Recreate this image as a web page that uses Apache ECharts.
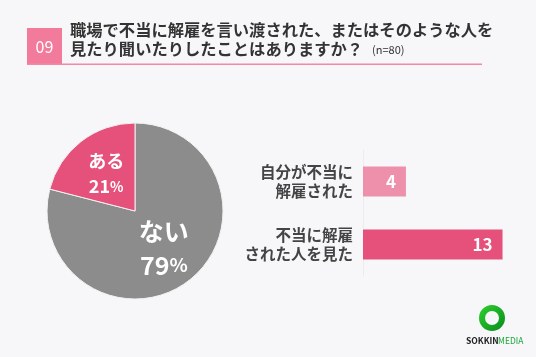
<!DOCTYPE html>
<html><head><meta charset="utf-8">
<script src="https://cdn.jsdelivr.net/npm/echarts@6/dist/echarts.min.js"></script>
<style>html,body{margin:0;padding:0;background:#f7f7f9}#c{width:536px;height:357px}</style>
</head><body><div id="c"></div>
<script>
const pieNames = ['ない', 'ある'];
const pieValues = [79, 21];
const barCategories = ['自分が不当に\n解雇された', '不当に解雇\nされた人を見た'];
const barValues = [4, 13];
const titleLine1 = '職場で不当に解雇を言い渡された、またはそのような人を';
const titleLine2 = '見たり聞いたりしたことはありますか？';
const nLabel = '(n=80)';
const qNum = '09';

const F = '"Noto Sans CJK JP", "Noto Sans", sans-serif';
const chart = echarts.init(document.getElementById('c'));
chart.setOption({
  backgroundColor: '#f7f7f9',
  animation: false,
  grid: { left: 363, top: 150, width: 161, height: 126 },
  xAxis: { type: 'value', min: 0, max: 15, show: false },
  yAxis: {
    type: 'category', data: barCategories, inverse: true,
    axisLine: { show: true, lineStyle: { color: '#ececee' } },
    axisTick: { show: false },
    axisLabel: { color: '#444', fontFamily: F, fontSize: 15.5, fontWeight: 'bold', lineHeight: 18.5, margin: 10, align: 'right' }
  },
  series: [
    {
      type: 'pie', center: [135, 211], radius: [0, 88], startAngle: 90, clockwise: true,
      data: pieNames.map((n, i) => ({ name: n, value: pieValues[i] })),
      itemStyle: { borderColor: '#f2f2f2', borderWidth: 1 },
      color: ['#8c8c8c', '#e6517b'],
      label: {
        position: 'inside', color: '#fff', fontFamily: F,
        formatter: p => p.dataIndex === 0 ? '{a|' + p.name + '}\n{a|' + p.value + '}{b|%}' : '{c|' + p.name + '}\n{c|' + p.value + '}{d|%}',
        rich: {
          a: { fontSize: 25, fontWeight: 'bold', color: '#fff', fontFamily: F, lineHeight: 34 },
          b: { fontSize: 19, fontWeight: 'bold', color: '#fff', fontFamily: F, lineHeight: 34 },
          c: { fontSize: 18, fontWeight: 'bold', color: '#fff', fontFamily: F, lineHeight: 25 },
          d: { fontSize: 14, fontWeight: 'bold', color: '#fff', fontFamily: F, lineHeight: 25 }
        }
      },
      labelLine: { show: false }
    },
    {
      type: 'bar', barWidth: 30,
      data: barValues.map((v, i) => ({ value: v, itemStyle: { color: i === 0 ? '#ee8fab' : '#e6517b' } })),
      label: { show: true, position: 'insideRight', color: '#fff', fontFamily: F, fontSize: 17, fontWeight: 'bold', distance: 10 }
    }
  ],
  graphic: [
    { type: 'rect', shape: { x: 27, y: 28, width: 35, height: 37 }, style: { fill: '#f27a9b' } },
    { type: 'text', x: 44.5, y: 47, style: { text: qNum, fill: '#fff', font: '16px ' + F, textAlign: 'center', textVerticalAlign: 'middle' } },
    { type: 'rect', shape: { x: 27, y: 63.5, width: 455, height: 1.5 }, style: { fill: '#f08aa6' } },
    { type: 'text', x: 70, y: 30, style: { text: titleLine1, fill: '#333', font: 'bold 16.3px ' + F, textVerticalAlign: 'middle' } },
    { type: 'text', x: 70, y: 49, style: { text: titleLine2, fill: '#333', font: 'bold 16.3px ' + F, textVerticalAlign: 'middle' } },
    { type: 'text', x: 372, y: 50, style: { text: nLabel, fill: '#333', font: '11px ' + F, textVerticalAlign: 'middle' } },
    { type: 'ring', shape: { cx: 492, cy: 318, r: 13, r0: 7 }, style: { fill: new echarts.graphic.LinearGradient(0, 0, 1, 1, [{ offset: 0, color: '#2ed12e' }, { offset: 1, color: '#0a8a1e' }]) } },
    { type: 'text', x: 466, y: 341, style: { text: 'SOKKIN', fill: '#222', font: 'bold 8.5px ' + F, textVerticalAlign: 'middle' } },
    { type: 'text', x: 498, y: 341, style: { text: 'MEDIA', fill: '#1aa83a', font: '8.5px ' + F, textVerticalAlign: 'middle' } }
  ]
});
</script></body></html>
